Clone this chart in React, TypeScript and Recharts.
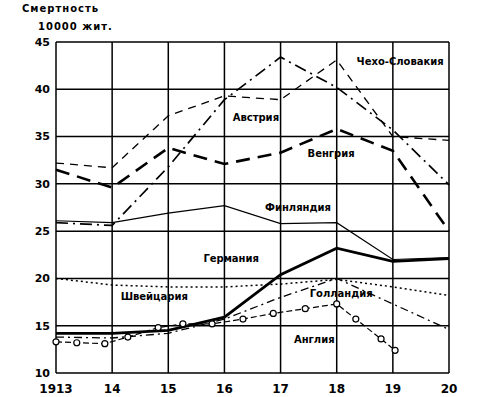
import React from 'react';
import { CartesianGrid, Line, LineChart, ReferenceDot, XAxis, YAxis } from 'recharts';

const years = [1913, 1914, 1915, 1916, 1917, 1918, 1919, 1920];
const yearLabels = ['1913', '14', '15', '16', '17', '18', '19', '20'];
const yTicks = [10, 15, 20, 25, 30, 35, 40, 45];

const czech = [32.2, 31.7, 37.2, 39.3, 38.9, 43.1, 35.0, 34.6];
const austria = [25.9, 25.6, 31.8, 38.9, 43.4, 40.2, 35.7, 29.9];
const hungary = [31.5, 29.6, 33.8, 32.1, 33.3, 35.8, 33.5, 25.0];
const finland = [26.1, 25.9, 26.9, 27.7, 25.8, 25.9, 22.0, 22.2];
const germany = [14.2, 14.2, 14.5, 15.9, 20.4, 23.2, 21.8, 22.1];
const switzerland = [20.0, 19.3, 19.1, 19.1, 19.4, 19.9, 19.1, 18.2];
const holland = [13.8, 13.7, 14.2, 15.7, 18.0, 20.0, 17.3, 14.6];

// Англия: points drawn roughly every half year
const englandX = [1913.0, 1913.37, 1913.87, 1914.28, 1914.82, 1915.26, 1915.78, 1916.33, 1916.87, 1917.44, 1918.0, 1918.34, 1918.79, 1919.04];
const englandY = [13.3, 13.2, 13.1, 13.8, 14.8, 15.2, 15.2, 15.7, 16.3, 16.8, 17.3, 15.7, 13.6, 12.4];

const labels = [
  { text: 'Чехо-Словакия', x: 1919.13, y: 42.9 },
  { text: 'Австрия', x: 1916.56, y: 37.05 },
  { text: 'Венгрия', x: 1917.9, y: 33.2 },
  { text: 'Финляндия', x: 1917.31, y: 27.5 },
  { text: 'Германия', x: 1916.12, y: 22.1 },
  { text: 'Швейцария', x: 1914.75, y: 18.1 },
  { text: 'Голландия', x: 1918.08, y: 18.4 },
  { text: 'Англия', x: 1917.6, y: 13.6 },
];

const toPoints = (ys: number[]) => years.map((x, i) => ({ x, y: ys[i] }));
const england = englandX.map((x, i) => ({ x, y: englandY[i] }));

const font = 'DejaVu Sans';

const App = () => {
  return (
    <div style={{ position: 'absolute', left: 0, top: 0, width: 478, height: 397, background: '#fff' }}>
      <div style={{ position: 'absolute', left: 22, top: 3, fontFamily: font, fontSize: 10, fontWeight: 'bold', letterSpacing: 1 }}>
        Смертность
      </div>
      <div style={{ position: 'absolute', left: 38, top: 21, fontFamily: font, fontSize: 10, fontWeight: 'bold', letterSpacing: 1 }}>
        10000 жит.
      </div>
      <LineChart width={478} height={397} data={toPoints(czech)} margin={{ top: 42, right: 29, bottom: 0, left: 0 }}>
        <CartesianGrid stroke="#000" strokeWidth={1.5} strokeOpacity={1} />
        <XAxis
          dataKey="x"
          type="number"
          domain={[1913, 1920]}
          ticks={years}
          tickFormatter={(v: number) => yearLabels[years.indexOf(v)]}
          axisLine={false}
          tickLine={false}
          height={24}
          tick={{ fill: '#000', fontSize: 12, fontFamily: font, fontWeight: 'bold', dy: 3 }}
          allowDuplicatedCategory={false}
        />
        <YAxis
          type="number"
          domain={[10, 45]}
          ticks={yTicks}
          axisLine={false}
          tickLine={false}
          width={56}
          tick={{ fill: '#000', fontSize: 11, fontFamily: font, fontWeight: 'bold', dx: 2 }}
        />
        <Line data={toPoints(czech)} dataKey="y" stroke="#000" strokeWidth={1.3} strokeDasharray="8 6" dot={false} isAnimationActive={false} />
        <Line data={toPoints(austria)} dataKey="y" stroke="#000" strokeWidth={1.7} strokeDasharray="12 5 2 5" dot={false} isAnimationActive={false} />
        <Line data={toPoints(hungary)} dataKey="y" stroke="#000" strokeWidth={2.6} strokeDasharray="14 8" dot={false} isAnimationActive={false} />
        <Line data={toPoints(finland)} dataKey="y" stroke="#000" strokeWidth={1.2} dot={false} isAnimationActive={false} />
        <Line data={toPoints(germany)} dataKey="y" stroke="#000" strokeWidth={2.8} dot={false} isAnimationActive={false} />
        <Line data={toPoints(switzerland)} dataKey="y" stroke="#000" strokeWidth={1.5} strokeDasharray="2 3" dot={false} isAnimationActive={false} />
        <Line data={toPoints(holland)} dataKey="y" stroke="#000" strokeWidth={1.3} strokeDasharray="8 4 2 4" dot={false} isAnimationActive={false} />
        <Line
          data={england}
          dataKey="y"
          stroke="#000"
          strokeWidth={1.2}
          strokeDasharray="6 3"
          dot={{ r: 3, fill: '#fff', stroke: '#000', strokeWidth: 1.2, strokeDasharray: '0' }}
          isAnimationActive={false}
        />
        {labels.map((l) => (
          <ReferenceDot
            key={l.text}
            x={l.x}
            y={l.y}
            r={0}
            stroke="none"
            label={{ value: l.text, position: 'center', fill: '#000', fontSize: 10, fontFamily: font, fontWeight: 'bold' }}
          />
        ))}
      </LineChart>
    </div>
  );
};

export default App;
